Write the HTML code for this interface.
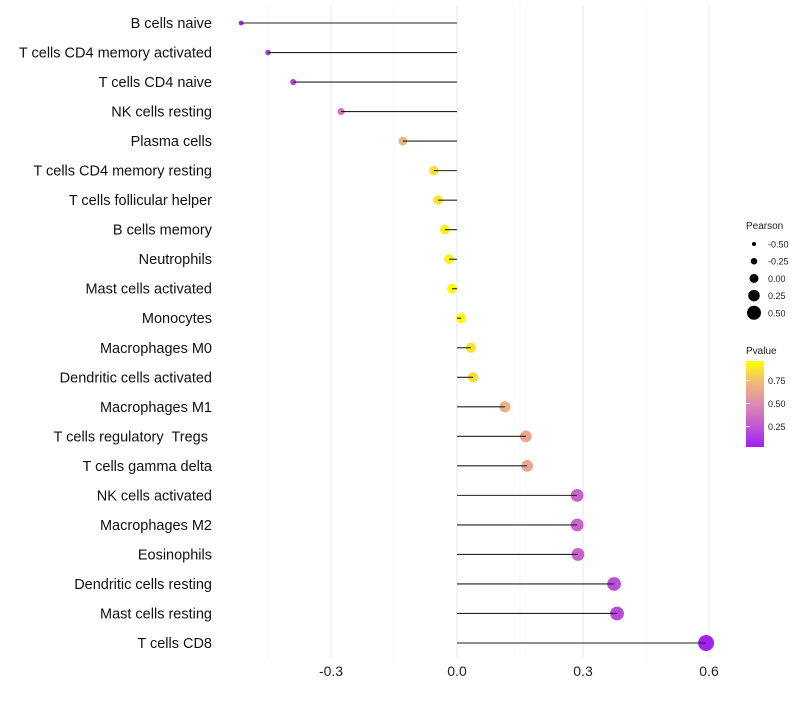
<!DOCTYPE html>
<html><head><meta charset="utf-8"><style>
body{margin:0;background:#fff;font-family:"Liberation Sans",sans-serif}
text{white-space:pre}
</style></head><body>
<svg id="chart" width="800" height="700">
<g id="grid"></g><g id="marks"></g><g id="labels"></g>
<g id="legend">
<defs><linearGradient id="pg" x1="0" y1="1" x2="0" y2="0">
<stop offset="0" stop-color="#a020f0"/><stop offset="0.25" stop-color="#c259d4"/><stop offset="0.5" stop-color="#dc8bb0"/><stop offset="0.75" stop-color="#f2b878"/><stop offset="1" stop-color="#ffff00"/></linearGradient></defs>
<text x="746" y="229" font-size="10" fill="#222">Pearson</text>
<text x="746" y="354" font-size="10" fill="#222">Pvalue</text>
<rect x="746" y="361" width="18" height="86" fill="url(#pg)"/>
</g>
</svg>
<script>
const categories=["B cells naive","T cells CD4 memory activated","T cells CD4 naive","NK cells resting","Plasma cells","T cells CD4 memory resting","T cells follicular helper","B cells memory","Neutrophils","Mast cells activated","Monocytes","Macrophages M0","Dendritic cells activated","Macrophages M1","T cells regulatory  Tregs ","T cells gamma delta","NK cells activated","Macrophages M2","Eosinophils","Dendritic cells resting","Mast cells resting","T cells CD8"];
const pearson=[-0.514,-0.45,-0.39,-0.276,-0.129,-0.055,-0.045,-0.029,-0.019,-0.012,0.01,0.033,0.038,0.114,0.164,0.167,0.286,0.286,0.288,0.374,0.381,0.593];
const pvalue=[0.02,0.08,0.15,0.4,0.72,0.88,0.9,0.95,0.96,0.97,0.98,0.9,0.88,0.7,0.65,0.65,0.3,0.3,0.3,0.2,0.18,0.01];
const xTicks=[-0.3,0,0.3,0.6];
const xTickLabels=["-0.3","0.0","0.3","0.6"];
const xMinor=[-0.45,-0.15,0.15,0.45];
const sizeBreaks=[-0.5,-0.25,0,0.25,0.5];
const sizeBreakLabels=["-0.50","-0.25","0.00","0.25","0.50"];
const pBreaks=[0.25,0.5,0.75];
const pBreakLabels=["0.25","0.50","0.75"];
const NS="http://www.w3.org/2000/svg";
const x=v=>457+v*420;
const y=i=>23+i*(620/21);
const r=p=>5+5*p;
const rl=p=>4.5+5*p;
const py=p=>447-(p-0.03)/0.93*86;
const stops=[[0,[160,32,240]],[0.25,[194,89,212]],[0.5,[220,139,176]],[0.75,[242,184,120]],[1,[255,255,0]]];
function col(p){for(let k=0;k<stops.length-1;k++){const[a,ca]=stops[k],[b,cb]=stops[k+1];if(p<=b){const t=(p-a)/(b-a);return`rgb(${ca.map((c,j)=>Math.round(c+(cb[j]-c)*t)).join(',')})`;}}return'rgb(255,255,0)';}
function mk(tag,attrs,parent,text){const e=document.createElementNS(NS,tag);for(const k in attrs)e.setAttribute(k,attrs[k]);if(text!==undefined)e.textContent=text;document.getElementById(parent).appendChild(e);return e;}
xMinor.forEach(v=>{const l=mk('line',{x1:x(v),x2:x(v),y1:5,y2:658,stroke:'#f0f0f0','stroke-width':0.6},'grid');

});
xTicks.forEach((v,i)=>{const l=mk('line',{x1:x(v),x2:x(v),y1:5,y2:658,stroke:'#ebebeb','stroke-width':1.1},'grid');


const t=mk('text',{x:x(v),y:676,'font-size':14,'text-anchor':'middle',fill:'#222'},'labels',xTickLabels[i]);

});
categories.forEach((c,i)=>{
const d=mk('circle',{cx:x(pearson[i]),cy:y(i),r:r(pearson[i]),fill:col(pvalue[i])},'marks');


const l=mk('line',{x1:x(0),x2:x(pearson[i]),y1:y(i),y2:y(i),stroke:'#222','stroke-width':1.1},'marks');


const t=mk('text',{x:212,y:y(i)+5,'font-size':14.5,'text-anchor':'end',fill:'#111'},'labels',c);

});
sizeBreaks.forEach((v,i)=>{const yy=244+i*17.2;
const c=mk('circle',{cx:754,cy:yy,r:rl(v),fill:'#000'},'legend');


const t=mk('text',{x:768,y:yy+3.5,'font-size':9,fill:'#222'},'legend',sizeBreakLabels[i]);

});
pBreaks.forEach((v,i)=>{const yy=py(v);
const l=mk('line',{x1:746,x2:750,y1:yy,y2:yy,stroke:'#fff','stroke-width':0.8},'legend');


const t=mk('text',{x:768,y:yy+3.5,'font-size':9,fill:'#222'},'legend',pBreakLabels[i]);

});
</script>
</body></html>
